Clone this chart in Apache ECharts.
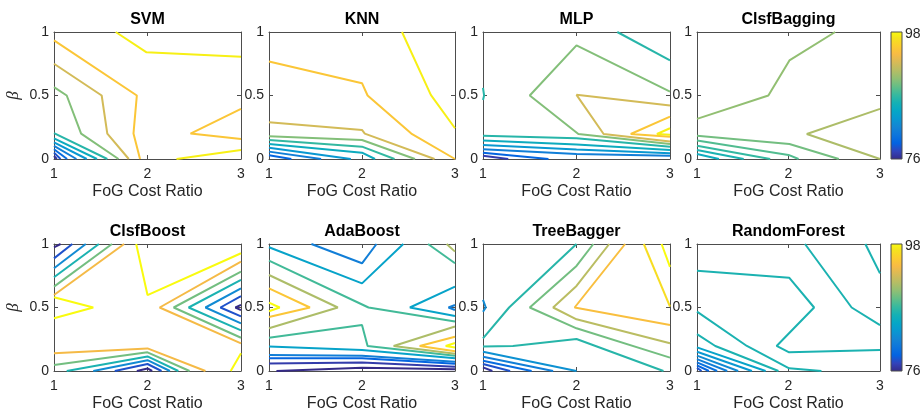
<!DOCTYPE html>
<html><head><meta charset="utf-8">
<script src="https://cdn.jsdelivr.net/npm/echarts@6/dist/echarts.min.js"></script>
<style>html,body{margin:0;padding:0;background:#fff}#c{width:923px;height:418px}</style>
</head><body><div id="c"></div>
<script>
// ---------- data ----------
const titles = ['SVM','KNN','MLP','ClsfBagging','ClsfBoost','AdaBoost','TreeBagger','RandomForest'];
const xTicks = [1, 2, 3];
const yTicks = [0, 0.5, 1];
const xName = 'FoG Cost Ratio';
const yName = 'β';
const colorMin = 76, colorMax = 98;
const colorbarLabels = ['98', '76'];

// contour lines: level (accuracy) and vertices [FoG cost ratio, beta]
const svmContours = [
  {level: 97.5, pts: [[1.66,1],[1.99,0.84],[3,0.805]]},
  {level: 97.5, pts: [[2.31,0],[3,0.071]]},
  {level: 95, pts: [[1,0.934],[1.886,0.5],[1.85,0.2],[1.92,0]]},
  {level: 95, pts: [[3,0.395],[2.46,0.2],[3,0.158]]},
  {level: 92.5, pts: [[1,0.75],[1.51,0.5],[1.57,0.2],[1.8,0]]},
  {level: 89.5, pts: [[1,0.566],[1.136,0.5],[1.29,0.2],[1.69,0]]},
  {level: 86.5, pts: [[1,0.203],[1.57,0]]},
  {level: 85, pts: [[1,0.163],[1.46,0]]},
  {level: 83, pts: [[1,0.131],[1.35,0]]},
  {level: 81, pts: [[1,0.103],[1.24,0]]},
  {level: 79.5, pts: [[1,0.077],[1.14,0]]},
  {level: 78, pts: [[1,0.05],[1.07,0]]},
  {level: 76.5, pts: [[1,0.024],[1.03,0]]}
];
const knnContours = [
  {level: 97.5, pts: [[2.43,1],[2.74,0.505],[3,0.242]]},
  {level: 95, pts: [[1,0.768],[2,0.597],[2.06,0.5],[2.53,0.2],[3,0]]},
  {level: 92.5, pts: [[1,0.289],[2,0.229],[2.03,0.2],[2.78,0]]},
  {level: 89.5, pts: [[1,0.18],[2,0.15],[2.57,0]]},
  {level: 87, pts: [[1,0.15],[2,0.097],[2.35,0]]},
  {level: 85, pts: [[1,0.118],[2,0.05],[2.14,0]]},
  {level: 83, pts: [[1,0.089],[1.88,0]]},
  {level: 81, pts: [[1,0.058],[1.56,0]]},
  {level: 79, pts: [[1,0.03],[1.24,0]]}
];
const mlpContours = [
  {level: 86.5, pts: [[2.436,1],[3,0.776]]},
  {level: 86.5, pts: [[1,0.56],[1.012,0.5],[1,0.465]]},
  {level: 89.5, pts: [[3,0.53],[2,0.895],[1.5,0.5],[2.02,0.197],[3,0.118]]},
  {level: 92.5, pts: [[3,0.421],[2,0.505],[2.29,0.197],[3,0.137]]},
  {level: 95, pts: [[3,0.334],[2.58,0.197],[3,0.176]]},
  {level: 97.5, pts: [[3,0.242],[2.86,0.197],[3,0.19]]},
  {level: 86.5, pts: [[1,0.184],[2,0.163],[3,0.097]]},
  {level: 85, pts: [[1,0.145],[2,0.115],[3,0.07]]},
  {level: 83, pts: [[1,0.11],[2,0.075],[3,0.045]]},
  {level: 81, pts: [[1,0.076],[2,0.04],[3,0.025]]},
  {level: 79, pts: [[1,0.05],[1.7,0]]},
  {level: 77, pts: [[1,0.025],[1.27,0]]}
];
const baggingContours = [
  {level: 90, pts: [[1,0.316],[1.78,0.5],[2.01,0.776],[2.51,1]]},
  {level: 91, pts: [[3,0.395],[2.2,0.197],[3,0]]},
  {level: 89, pts: [[1,0.184],[2.01,0.118],[2.55,0]]},
  {level: 88, pts: [[1,0.145],[2,0.032],[2.11,0]]},
  {level: 87, pts: [[1,0.105],[1.8,0]]},
  {level: 86, pts: [[1,0.071],[1.51,0]]},
  {level: 85, pts: [[1,0.04],[1.24,0]]}
];
const boostContours = [
  {level: 74, pts: [[1,0.974],[1.07,1]]},
  {level: 78, pts: [[1,0.887],[1.196,1]]},
  {level: 82, pts: [[1,0.809],[1.34,1]]},
  {level: 86, pts: [[1,0.738],[1.48,1]]},
  {level: 89, pts: [[1,0.664],[1.62,1]]},
  {level: 94, pts: [[1,0.598],[1.75,1]]},
  {level: 98, pts: [[1.879,1],[2,0.598],[3,0.927]]},
  {level: 98, pts: [[1,0.58],[1.42,0.5],[1,0.415]]},
  {level: 94, pts: [[3,0.861],[2.13,0.5],[3,0.218]]},
  {level: 89, pts: [[3,0.782],[2.28,0.5],[3,0.262]]},
  {level: 86, pts: [[3,0.717],[2.44,0.5],[3,0.32]]},
  {level: 82, pts: [[3,0.65],[2.62,0.5],[3,0.375]]},
  {level: 78, pts: [[3,0.59],[2.78,0.5],[3,0.43]]},
  {level: 74, pts: [[3,0.52],[2.94,0.5],[3,0.48]]},
  {level: 94, pts: [[1,0.139],[2,0.178],[2.62,0]]},
  {level: 89, pts: [[1,0.047],[2,0.147],[2.45,0]]},
  {level: 86, pts: [[1.136,0],[2,0.115],[2.33,0]]},
  {level: 82, pts: [[1.42,0],[2,0.085],[2.24,0]]},
  {level: 78, pts: [[1.65,0],[2,0.055],[2.15,0]]},
  {level: 74, pts: [[1.886,0],[2,0.02],[2.05,0]]},
  {level: 98, pts: [[2.89,0],[3,0.14]]}
];
const adaContours = [
  {level: 81, pts: [[1.456,1],[2,0.848],[2.156,1]]},
  {level: 84, pts: [[1,0.974],[2,0.69],[2.444,1]]},
  {level: 87.5, pts: [[1,0.869],[2.07,0.5],[3,0.39]]},
  {level: 87.5, pts: [[2.71,1],[3,0.848]]},
  {level: 91, pts: [[2.91,1],[3,0.94]]},
  {level: 91, pts: [[1,0.756],[1.74,0.5],[1,0.336]]},
  {level: 95, pts: [[1,0.651],[1.44,0.5],[1,0.425]]},
  {level: 98, pts: [[1,0.538],[1.115,0.5],[1,0.47]]},
  {level: 84, pts: [[3,0.664],[2.515,0.5],[3,0.433]]},
  {level: 81, pts: [[3,0.52],[2.93,0.5],[3,0.48]]},
  {level: 87.5, pts: [[1,0.262],[2,0.362],[2.06,0.197],[3,0.12]]},
  {level: 91, pts: [[3,0.35],[2.34,0.197],[3,0.135]]},
  {level: 95, pts: [[3,0.27],[2.62,0.197],[3,0.155]]},
  {level: 98, pts: [[3,0.22],[2.9,0.197],[3,0.185]]},
  {level: 84, pts: [[1,0.192],[2,0.165],[3,0.1]]},
  {level: 81, pts: [[1,0.126],[2,0.121],[3,0.073]]},
  {level: 79, pts: [[1,0.1],[2,0.1],[3,0.058]]},
  {level: 77, pts: [[1,0.06],[2,0.066],[3,0.034]]},
  {level: 75, pts: [[1.08,0],[2,0.026],[3,0.013]]}
];
const treeContours = [
  {level: 86.5, pts: [[1,0.257],[1.279,0.5],[2,1]]},
  {level: 89, pts: [[2.18,1],[2,0.827],[1.5,0.5],[2,0.336],[3,0.105]]},
  {level: 91.5, pts: [[2.35,1],[2,0.67],[1.75,0.5],[2,0.407],[3,0.218]]},
  {level: 94.5, pts: [[2.52,1],[1.98,0.5],[3,0.362]]},
  {level: 96.5, pts: [[2.72,1],[3,0.507]]},
  {level: 98, pts: [[2.91,1],[3,0.82]]},
  {level: 86.5, pts: [[1,0.192],[1.32,0.197],[2,0.252],[2.93,0]]},
  {level: 82.5, pts: [[1,0.152],[2,0]]},
  {level: 81, pts: [[1,0.113],[1.75,0]]},
  {level: 79.5, pts: [[1,0.081],[1.52,0]]},
  {level: 78, pts: [[1,0.055],[1.29,0]]},
  {level: 76.5, pts: [[1,0.029],[1.1,0]]},
  {level: 82, pts: [[1,0.56],[1.03,0.5],[1,0.467]]}
];
const forestContours = [
  {level: 86, pts: [[1,0.79],[2.007,0.735],[2.28,0.5],[1.87,0.197],[2.007,0.147],[3,0.165]]},
  {level: 86, pts: [[2.18,1],[2.69,0.5],[3,0.362]]},
  {level: 86, pts: [[2.84,1],[3,0.769]]},
  {level: 86, pts: [[1,0.467],[1.545,0.197],[2.007,0.021],[2.36,0]]},
  {level: 86, pts: [[1,0.291],[1.2,0.197],[1.89,0]]},
  {level: 84, pts: [[1,0.186],[1.75,0]]},
  {level: 83, pts: [[1,0.152],[1.6,0]]},
  {level: 82, pts: [[1,0.121],[1.45,0]]},
  {level: 81, pts: [[1,0.094],[1.33,0]]},
  {level: 80, pts: [[1,0.068],[1.22,0]]},
  {level: 79, pts: [[1,0.045],[1.13,0]]},
  {level: 78, pts: [[1,0.024],[1.05,0]]}
];
const allContours = [svmContours, knnContours, mlpContours, baggingContours,
                     boostContours, adaContours, treeContours, forestContours];

// parula colormap samples (every 4th of 64)
const parula = [
  [0.2081,0.1663,0.5292],[0.1959,0.2645,0.7279],[0.0117,0.3875,0.8820],[0.0498,0.4586,0.8641],
  [0.0793,0.5200,0.8312],[0.0343,0.5966,0.8199],[0.0228,0.6535,0.7768],[0.0843,0.6928,0.7062],
  [0.2178,0.7250,0.6193],[0.3953,0.7459,0.5244],[0.5709,0.7485,0.4494],[0.7184,0.7411,0.3905],
  [0.8507,0.7299,0.3360],[0.9739,0.7314,0.2666],[0.9880,0.8066,0.1794],[0.9589,0.8949,0.1132],
  [0.9763,0.9831,0.0538]
];
const parulaPos = [0,4,8,12,16,20,24,28,32,36,40,44,48,52,56,60,63].map(v => v / 63);

// ---------- helpers ----------
function toHex(c) {
  return '#' + c.map(v => Math.round(Math.max(0, Math.min(1, v)) * 255).toString(16).padStart(2, '0')).join('');
}
function parulaAt(t) {
  t = Math.max(0, Math.min(1, t));
  for (let i = 0; i < parulaPos.length - 1; i++) {
    if (t <= parulaPos[i + 1]) {
      const f = (t - parulaPos[i]) / (parulaPos[i + 1] - parulaPos[i]);
      return toHex(parula[i].map((v, k) => v + f * (parula[i + 1][k] - v)));
    }
  }
  return toHex(parula[parula.length - 1]);
}
function levelColor(level) { return parulaAt((level - colorMin) / (colorMax - colorMin)); }

// ---------- layout ----------
const colLeft = [54, 269, 483, 697];
const colWidth = [187, 186, 187, 183];
const rowTop = [32, 244];
const plotH = 127;
const axisColor = '#4d4d4d';
const textColor = '#262626';
const font = 'Liberation Sans, Arial, Helvetica, sans-serif';

const grids = [], xAxes = [], yAxes = [], series = [], graphics = [];
titles.forEach((t, i) => {
  const r = Math.floor(i / 4), c = i % 4;
  grids.push({left: colLeft[c], top: rowTop[r], width: colWidth[c], height: plotH, show: false});
  const common = {gridIndex: i, type: 'value', splitLine: {show: false},
    axisLine: {show: true, onZero: false, lineStyle: {color: axisColor, width: 1}},
    axisTick: {show: true, inside: true, length: 4, lineStyle: {color: axisColor}}};
  xAxes.push(Object.assign({}, common, {position: 'bottom', min: xTicks[0], max: xTicks[xTicks.length - 1], interval: 1,
    axisLabel: {fontSize: 14, color: textColor, margin: 8, fontFamily: font},
    name: xName, nameLocation: 'middle', nameGap: 25,
    nameTextStyle: {fontSize: 16, color: textColor, fontFamily: font}}));
  xAxes.push(Object.assign({}, common, {position: 'top', min: xTicks[0], max: xTicks[xTicks.length - 1], interval: 1,
    axisLabel: {show: false}}));
  const yl = Object.assign({}, common, {position: 'left', min: yTicks[0], max: yTicks[yTicks.length - 1], interval: 0.5,
    axisLabel: {fontSize: 14, color: textColor, margin: 5, fontFamily: font}});
  if (c === 0) {
    Object.assign(yl, {name: yName, nameLocation: 'middle', nameGap: 32, nameRotate: 90,
      nameTextStyle: {fontSize: 17, color: textColor, fontStyle: 'italic', fontFamily: 'Liberation Serif, DejaVu Serif, serif'}});
  }
  yAxes.push(yl);
  yAxes.push(Object.assign({}, common, {position: 'right', min: yTicks[0], max: yTicks[yTicks.length - 1], interval: 0.5,
    axisLabel: {show: false}}));
  allContours[i].forEach(ct => {
    series.push({type: 'line', xAxisIndex: 2 * i, yAxisIndex: 2 * i, data: ct.pts,
      showSymbol: false, symbol: 'none', silent: true, clip: true,
      lineStyle: {color: levelColor(ct.level), width: 2}});
  });
  graphics.push({type: 'text', x: colLeft[c] + colWidth[c] / 2, y: rowTop[r] - 12,
    style: {text: t, textAlign: 'center', textVerticalAlign: 'middle',
      font: 'bold 16px ' + font, fill: '#000'}});
});

// colorbars
const stops = parulaPos.map((p, k) => ({offset: p, color: toHex(parula[k])}));
rowTop.forEach(top => {
  graphics.push({type: 'rect', shape: {x: 891, y: top, width: 11, height: plotH},
    style: {fill: new echarts.graphic.LinearGradient(0, 1, 0, 0, stops), stroke: axisColor, lineWidth: 1}});
  graphics.push({type: 'text', x: 905, y: top + 2,
    style: {text: colorbarLabels[0], textAlign: 'left', textVerticalAlign: 'middle', font: '14px ' + font, fill: textColor}});
  graphics.push({type: 'text', x: 905, y: top + plotH,
    style: {text: colorbarLabels[1], textAlign: 'left', textVerticalAlign: 'middle', font: '14px ' + font, fill: textColor}});
});

const chart = echarts.init(document.getElementById('c'), null, {renderer: 'canvas'});
chart.setOption({
  animation: false,
  backgroundColor: '#ffffff',
  grid: grids, xAxis: xAxes, yAxis: yAxes, series: series, graphic: graphics
});
</script>
</body></html>
